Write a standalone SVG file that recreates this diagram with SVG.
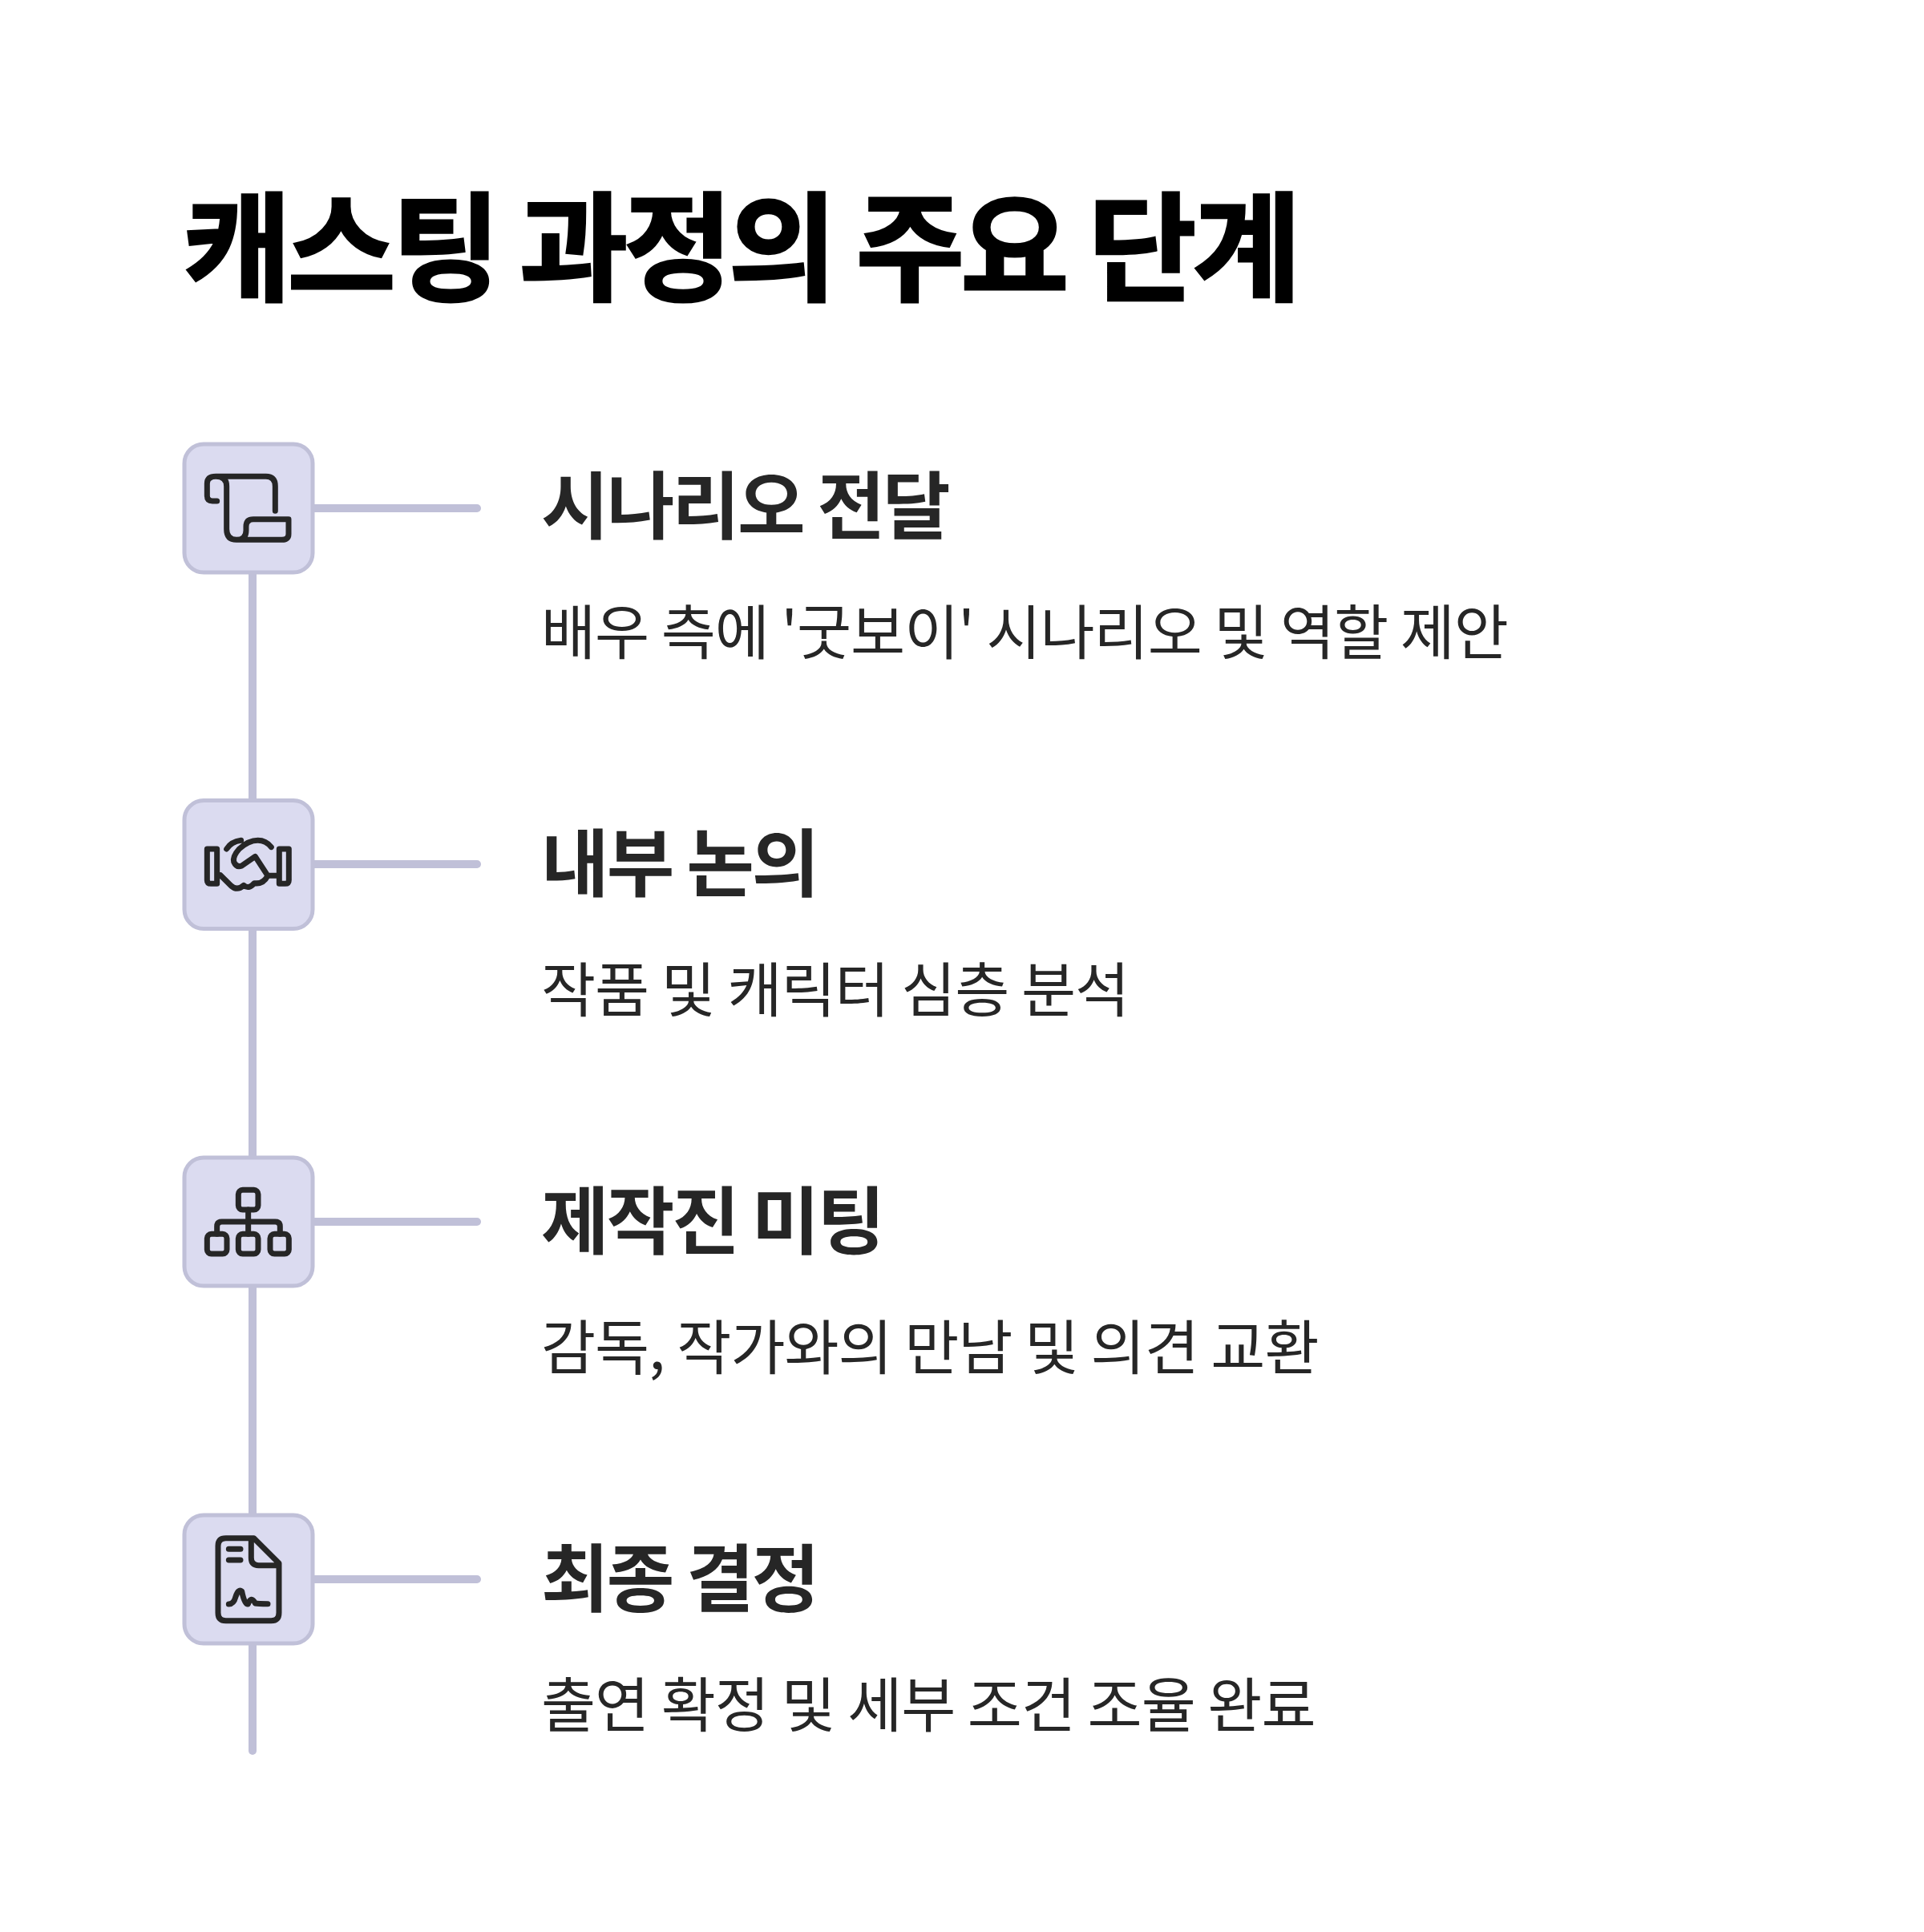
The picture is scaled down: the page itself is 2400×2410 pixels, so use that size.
<svg xmlns="http://www.w3.org/2000/svg" width="2400" height="2410" viewBox="0 0 2400 2410">
<style>
text{font-family:"Noto Sans CJK KR","Noto Sans",sans-serif;fill:#262626}
.title{font-size:147px;font-weight:700;fill:#000;letter-spacing:-4.8px;stroke:#000;stroke-width:3px}
.head{font-size:92px;font-weight:700;letter-spacing:-3px}
.sub{font-size:74px;font-weight:400;letter-spacing:-1px}
.box{fill:#dbdbf0;stroke:#c0c0d8;stroke-width:5}
.line{stroke:#c0c0d8;stroke-width:10;stroke-linecap:round;fill:none}
.ic{fill:none;stroke:#262626;stroke-width:21;stroke-linecap:round;stroke-linejoin:round}
</style>
<rect width="2400" height="2410" fill="#fff"/>
<text class="title" x="228" y="363">캐스팅 과정의 주요 단계</text>
<g id="connectors">
<path class="line" d="M315 715V2184"/>
<path class="line" d="M392 634H595"/>
<path class="line" d="M392 1078H595"/>
<path class="line" d="M392 1524H595"/>
<path class="line" d="M392 1970H595"/>
</g>
<g id="node1">
<rect class="box" x="230" y="554" width="160" height="160" rx="24"/>
<g transform="translate(210 540) scale(.3333)"><path class="ic" d="M182 255H165Q145 255 145 235V190Q145 163 178 163H365Q400 163 400 200V292M178 163Q218 163 218 200V360Q218 400 255 400H425Q450 400 450 378V323H318Q291 323 291 350V365Q291 400 255 400"/></g>
<text class="head" x="675" y="665">시나리오 전달</text>
<text class="sub" x="675" y="816">배우 측에 '굿보이' 시나리오 및 역할 제안</text>
</g>
<g id="node2">
<rect class="box" x="230" y="998.500" width="160" height="160" rx="24"/>
<g transform="translate(210 985) scale(.3333)"><path class="ic" d="M145 222H182V352H160Q145 352 145 338ZM415 222H451V338Q451 352 437 352H415ZM195 320 235 360Q258 380 282 358 300 375 322 350 355 355 372 322L325 250 275 285Q255 293 245 270 240 250 265 222 300 190 335 190 365 190 385 215M372 322H412M218 222Q235 195 272 190"/></g>
<text class="head" x="675" y="1111">내부 논의</text>
<text class="sub" x="675" y="1262">작품 및 캐릭터 심층 분석</text>
</g>
<g id="node3">
<rect class="box" x="230" y="1444" width="160" height="160" rx="24"/>
<g transform="translate(210 1430) scale(.3333)"><rect class="ic" x="262" y="163" width="74" height="74" rx="16"/><rect class="ic" x="145" y="328" width="74" height="74" rx="16"/><rect class="ic" x="262" y="328" width="74" height="74" rx="16"/><rect class="ic" x="381" y="328" width="70" height="74" rx="16"/><path class="ic" d="M299 237V328M182 328V300Q182 282 200 282H400Q418 282 418 300V328"/></g>
<text class="head" x="675" y="1557">제작진 미팅</text>
<text class="sub" x="675" y="1708">감독, 작가와의 만남 및 의견 교환</text>
</g>
<g id="node4">
<rect class="box" x="230" y="1890" width="160" height="160" rx="24"/>
<g transform="translate(210 1870) scale(.3333)"><path class="ic" d="M320 146H215Q186 146 186 175V425Q186 455 215 455H385Q414 455 414 425V240ZM310 146V220Q310 248 338 248H414M226 187H270M226 228H270M226 393Q245 393 252 365 262 335 275 345 285 395 298 393 310 360 325 390 335 392 372 392"/></g>
<text class="head" x="675" y="2003">최종 결정</text>
<text class="sub" x="675" y="2154">출연 확정 및 세부 조건 조율 완료</text>
</g>
</svg>
